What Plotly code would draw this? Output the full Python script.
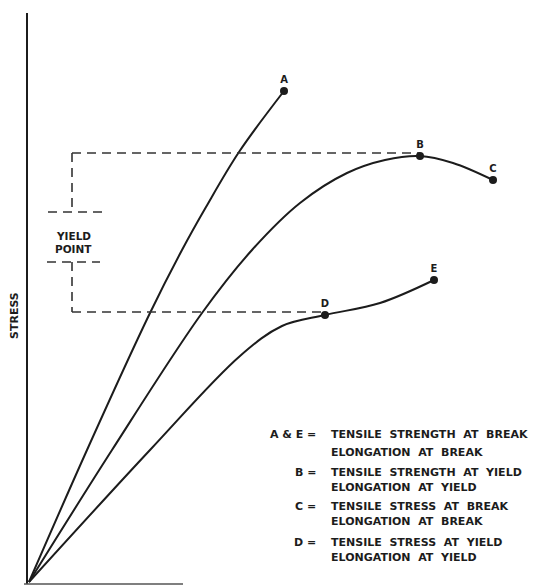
import plotly.graph_objects as go

# ---- data (strain, stress in arbitrary units) ----
strain_A = [0, 58, 121, 153, 177, 210, 255]
stress_A = [0, 132, 269, 332, 375, 430, 491]

strain_B = [0, 83, 173, 223, 271, 318, 356, 391, 424, 464]
stress_B = [0, 132, 269, 332, 379, 409, 422, 426, 419, 402]

strain_D = [0, 121, 211, 253, 296, 351, 405]
stress_D = [0, 132, 226, 256, 267, 279, 302]

point_labels = ["A", "B", "C", "D", "E"]
point_strain = [255, 391, 464, 296, 405]
point_stress = [491, 426, 402, 267, 302]

yield_upper = 429
yield_lower = 270

legend_keys = ["A & E =", "B =", "C =", "D ="]
legend_line1 = ["TENSILE STRENGTH AT BREAK", "TENSILE STRENGTH AT YIELD",
                "TENSILE STRESS AT BREAK", "TENSILE STRESS AT YIELD"]
legend_line2 = ["ELONGATION AT BREAK", "ELONGATION AT YIELD",
                "ELONGATION AT BREAK", "ELONGATION AT YIELD"]

# page body has an 8px margin: shrink and shift the figure to compensate
OFF = 8
W, H = 539 - OFF, 586 - OFF
X0, Y0 = 29, 582          # reference-pixel position of the origin
INK = "#1c1c1c"
FONT = "DejaVu Sans"
NB = "\u00a0"


def spaced(s):
    return s.replace(" ", NB * 2)


fig = go.Figure()

for xs, ys in [(strain_A, stress_A), (strain_B, stress_B), (strain_D, stress_D)]:
    fig.add_trace(go.Scatter(x=xs, y=ys, mode="lines",
                             line=dict(color=INK, width=2, shape="spline", smoothing=1),
                             hoverinfo="skip", showlegend=False))

# yield point bracket (dashed)
bx = 43
dash = "9px,6px"
segs = [
    ([bx, point_strain[1]], [yield_upper, yield_upper]),
    ([bx, bx], [yield_upper, 370]),
    ([19, 73], [370, 370]),
    ([18, 71], [320, 320]),
    ([bx, bx], [320, yield_lower]),
    ([bx, point_strain[3]], [yield_lower, yield_lower]),
]
for xs, ys in segs:
    fig.add_trace(go.Scatter(x=xs, y=ys, mode="lines",
                             line=dict(color="#333", width=1.6, dash=dash),
                             hoverinfo="skip", showlegend=False))

# points
fig.add_trace(go.Scatter(x=point_strain, y=point_stress, mode="markers+text",
                         text=["<b>%s</b>" % t for t in point_labels],
                         textposition="top center",
                         textfont=dict(family=FONT, size=10, color=INK),
                         marker=dict(color=INK, size=8),
                         hoverinfo="skip", showlegend=False))

# axes lines
fig.add_shape(type="line", x0=-2, x1=-2, y0=-2, y1=569, line=dict(color=INK, width=2))
fig.add_shape(type="line", x0=-5, x1=154, y0=-2, y1=-2, line=dict(color="#555", width=1.5))


def px(x):
    return (x - OFF) / W


def py(y):
    return 1 - (y - OFF) / H


anns = []
anns.append(dict(text="<b>STRESS</b>", x=px(15), y=py(316), textangle=-90,
                 font=dict(family=FONT, size=11, color=INK)))
anns.append(dict(text="<b>YIELD</b>", x=px(73), y=py(236), font=dict(family=FONT, size=10.5, color=INK)))
anns.append(dict(text="<b>POINT</b>", x=px(73), y=py(249), font=dict(family=FONT, size=10.5, color=INK)))

rows = [(434, 452), (472, 487), (506, 521), (542, 557)]
LF = dict(family=FONT, size=11, color=INK)
for k, l1, l2, (y1, y2) in zip(legend_keys, legend_line1, legend_line2, rows):
    anns.append(dict(text="<b>%s</b>" % k, x=px(318), y=py(y1), xanchor="right", font=LF))
    anns.append(dict(text="<b>%s</b>" % spaced(l1), x=px(329), y=py(y1), xanchor="left", font=LF))
    anns.append(dict(text="<b>%s</b>" % spaced(l2), x=px(329), y=py(y2), xanchor="left", font=LF))

for a in anns:
    a.update(xref="paper", yref="paper", showarrow=False, yanchor="middle")
    a.setdefault("xanchor", "center")

fig.update_layout(
    width=W, height=H, autosize=False,
    margin=dict(l=0, r=0, t=0, b=0),
    paper_bgcolor="white", plot_bgcolor="white",
    xaxis=dict(range=[OFF - X0, 539 - X0], visible=False, fixedrange=True),
    yaxis=dict(range=[Y0 - 586, Y0 - OFF], visible=False, fixedrange=True),
    annotations=anns,
    showlegend=False,
)

fig.write_html("out.html", config={"displayModeBar": False})
